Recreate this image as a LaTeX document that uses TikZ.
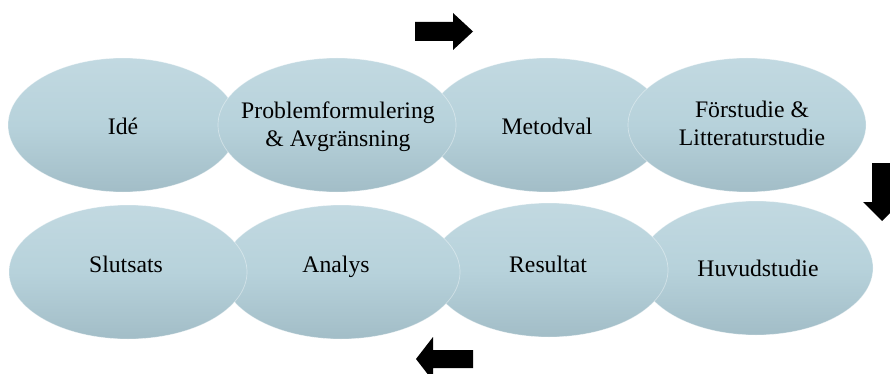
\documentclass[tikz,border=0pt]{standalone}
\usepackage{fontspec}
\setmainfont{Liberation Serif}
\usetikzlibrary{shapes.geometric}
\definecolor{elltop}{HTML}{C2D9E1}
\definecolor{ellmid}{HTML}{B7D2DB}
\definecolor{ellbot}{HTML}{A2BDC7}
\tikzset{
  stage/.style={ellipse, minimum width=238pt, minimum height=134pt, inner sep=0pt,
    top color=elltop, bottom color=ellbot, middle color=ellmid,
    draw=white, draw opacity=0.4, line width=0.7pt},
  label text/.style={align=center, inner sep=0pt, font=\fontsize{23.7}{28}\selectfont, text=black},
  line text/.style={label text, anchor=base},
  blockarrow/.style={fill=black}
}
\begin{document}
\begin{tikzpicture}[x=1pt,y=-1pt]
\useasboundingbox (0,0) rectangle (890,374);
\clip (0,0) rectangle (890,374);
% top row
\node[stage, minimum width=230pt] (e1) at (123,125) {};
\node[stage] (e3) at (547,125) {};
\node[stage] (e2) at (337,125) {};
\node[stage] (e4) at (747,125) {};
% bottom row (right to left drawing order)
\node[stage, minimum width=234pt] (e5) at (756,268) {};
\node[stage] (e6) at (549,270) {};
\node[stage] (e7) at (341,272) {};
\node[stage] (e8) at (128,272) {};
% texts
\node[line text] (t1) at (123,135) {Idé};
\node[label text] (t2) at (338,127) {Problemformulering\\\& Avgränsning};
\node[line text] (t3) at (547,135) {Metodval};
\node[label text] (t4) at (752,123.5) {Förstudie \&\\Litteraturstudie};
\node[line text] (t5) at (758,276) {Huvudstudie};
\node[line text] (t6) at (548,272) {Resultat};
\node[line text] (t7) at (336,272) {Analys};
\node[line text] (t8) at (126,272) {Slutsats};
% block arrows
\fill[blockarrow] (415,22) -- (453,22) -- (453,13) -- (473,31.5) -- (453,50) -- (453,41) -- (415,41) -- cycle;
\fill[blockarrow] (872,163) -- (892,163) -- (892,202) -- (901,202) -- (882,221) -- (863,202) -- (872,202) -- cycle;
\fill[blockarrow] (473,350) -- (433,350) -- (433,337) -- (416,359) -- (433,381) -- (433,368) -- (473,368) -- cycle;
\end{tikzpicture}
\end{document}
